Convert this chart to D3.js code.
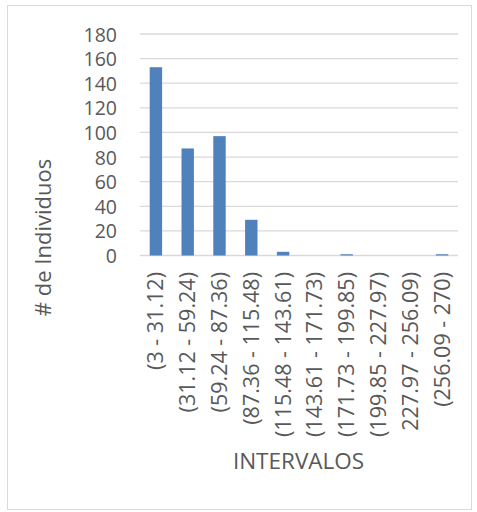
<!DOCTYPE html>
<html>
<head>
<meta charset="utf-8">
<script src="https://cdn.jsdelivr.net/npm/d3@7"></script>
<style>
  html, body { margin: 0; padding: 0; background: #fff; }
  svg text { font-family: "Open Sans", "Liberation Sans", sans-serif; fill: #595959; }
</style>
</head>
<body>
<svg id="chart" width="477" height="512"></svg>
<script>
// Histogram of individuals per interval
const categories = [
  "(3 - 31.12)", "(31.12 - 59.24)", "(59.24 - 87.36)", "(87.36 - 115.48)",
  "(115.48 - 143.61)", "(143.61 - 171.73)", "(171.73 - 199.85)",
  "(199.85 - 227.97)", "227.97 - 256.09)", "(256.09 - 270)"
];
const counts = [153, 87, 97, 29, 3, 0, 1, 0, 0, 1];
const yTicks = [0, 20, 40, 60, 80, 100, 120, 140, 160, 180];
const yTitle = "# de Individuos";
const xTitle = "INTERVALOS";

const svg = d3.select("#chart");

// outer chart frame
svg.append("rect")
  .attr("x", 7.5).attr("y", 5.5)
  .attr("width", 464).attr("height", 504)
  .attr("fill", "#fff").attr("stroke", "#d9d9d9").attr("stroke-width", 1);

const plot = { left: 140, right: 458, top: 34, bottom: 255.5 };

const x = d3.scaleBand()
  .domain(categories)
  .range([plot.left, plot.right])
  .paddingInner(0.61).paddingOuter(0.305);

const y = d3.scaleLinear()
  .domain([0, 180])
  .range([plot.bottom, plot.top]);

// horizontal gridlines
svg.append("g")
  .selectAll("line")
  .data(yTicks)
  .join("line")
  .attr("x1", plot.left).attr("x2", plot.right)
  .attr("y1", d => y(d)).attr("y2", d => y(d))
  .attr("stroke", "#d9d9d9").attr("stroke-width", 1.3);

// bars
svg.append("g")
  .selectAll("rect")
  .data(counts)
  .join("rect")
  .attr("x", (d, i) => x(categories[i]))
  .attr("width", x.bandwidth())
  .attr("y", d => y(d))
  .attr("height", d => plot.bottom - y(d))
  .attr("fill", "#4f81bd");

// y axis labels (compact line height so neighbouring labels stay clear)
const yAxis = d3.axisLeft(y).tickValues(yTicks).tickSize(0).tickPadding(0);
const gy = svg.append("g")
  .attr("transform", `translate(${plot.left - 23},0)`)
  .call(yAxis);
gy.select(".domain").remove();
gy.selectAll("text")
  .attr("font-size", 19.5)
  .attr("font-family", "'Liberation Sans', Arial, sans-serif")
  .attr("fill", "#595959")
  .attr("dy", "0.36em");

// x axis labels, rotated
const xAxis = d3.axisBottom(x).tickSize(0).tickPadding(0);
const gx = svg.append("g")
  .attr("transform", `translate(0,${plot.bottom})`)
  .call(xAxis);
gx.select(".domain").remove();
gx.selectAll("text")
  .attr("font-size", 21.5)
  .attr("font-family", null)
  .attr("fill", "#595959")
  .attr("transform", "rotate(-90)")
  .attr("x", -16.5)
  .attr("y", 0)
  .attr("dy", "0.35em")
  .attr("text-anchor", "end");

// axis titles
svg.append("text")
  .attr("transform", `translate(51,237.5) rotate(-90)`)
  .attr("text-anchor", "middle")
  .attr("font-size", 22)
  .text(yTitle);

svg.append("text")
  .attr("x", 298.5).attr("y", 469)
  .attr("text-anchor", "middle")
  .attr("font-size", 22.5)
  .text(xTitle);
</script>
</body>
</html>
